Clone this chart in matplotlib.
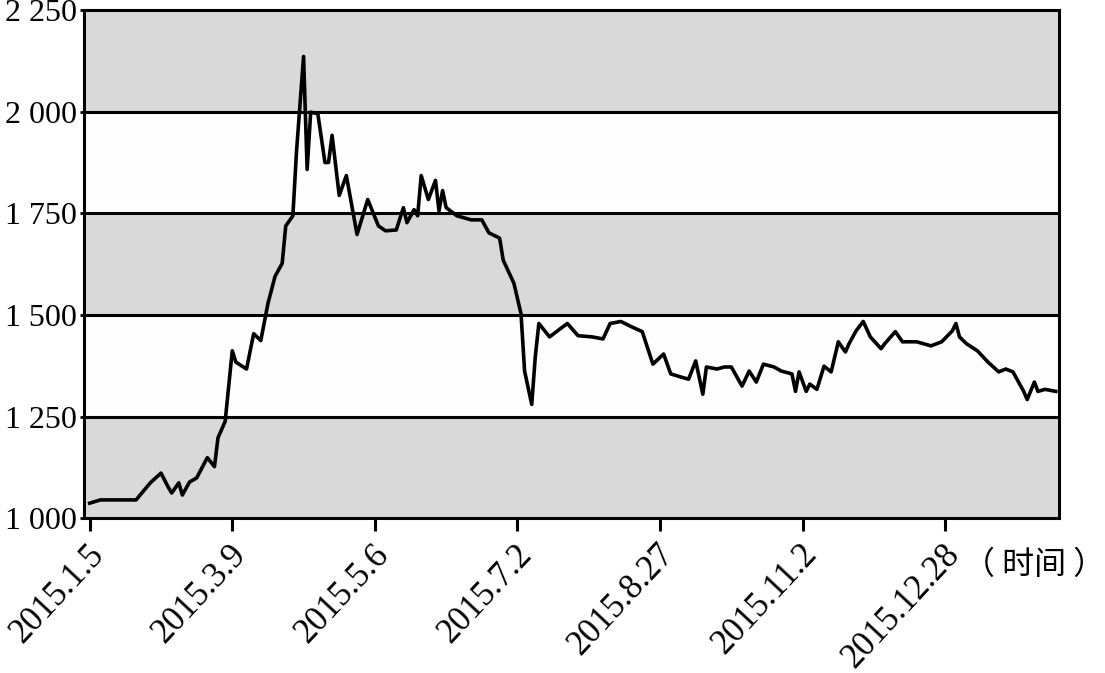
import matplotlib.pyplot as plt
from matplotlib.transforms import ScaledTranslation

plt.rcParams['font.family'] = ['Liberation Serif', 'Noto Sans CJK SC']

# trading-day index (0 = 2015.1.5) and index value
days = [0, 3, 13, 17, 20, 22, 23, 25, 26, 28, 30, 33, 35, 36, 38, 40, 41, 44, 46, 48,
        50, 52, 54, 55, 57, 58, 60, 61, 62, 64, 66, 67, 68, 70, 72, 75, 78, 81, 83, 86,
        88, 89, 91, 92, 93, 95, 97, 98, 99, 100, 103, 107, 110, 112, 115, 116, 119, 121, 122, 124,
        125, 126, 129, 132, 134, 137, 141, 144, 146, 149, 152, 155, 158, 161, 163, 166, 168, 170, 172, 173,
        176, 178, 180, 183, 185, 187, 189, 192, 194, 197, 198, 199, 201, 202, 204, 206, 208, 209, 210, 212,
        213, 215, 217, 219, 222, 223, 226, 228, 232, 236, 239, 242, 243, 244, 246, 249, 252, 255, 257, 259,
        262, 263, 265, 266, 268, 271]
values = [1037, 1045, 1045, 1087, 1111, 1077, 1062, 1087, 1057, 1089, 1099, 1149, 1127, 1198, 1238, 1412, 1384, 1367, 1454, 1437,
          1528, 1595, 1627, 1719, 1744, 1900, 2136, 1858, 1999, 1995, 1875, 1875, 1942, 1794, 1843, 1698, 1784, 1719, 1707, 1709,
          1764, 1727, 1759, 1744, 1843, 1784, 1831, 1756, 1806, 1764, 1744, 1734, 1734, 1702, 1689, 1635, 1578, 1503, 1362, 1280,
          1397, 1479, 1446, 1466, 1479, 1449, 1446, 1441, 1479, 1484, 1471, 1459, 1379, 1404, 1355, 1347, 1342, 1387, 1305, 1372,
          1367, 1372, 1372, 1325, 1362, 1335, 1379, 1372, 1362, 1355, 1312, 1360, 1312, 1330, 1317, 1374, 1360, 1397, 1434, 1409,
          1429, 1461, 1484, 1446, 1417, 1429, 1459, 1434, 1434, 1424, 1434, 1461, 1479, 1446, 1429, 1412, 1384, 1360, 1367, 1360,
          1312, 1292, 1335, 1312, 1317, 1312]

tick_days = [0, 40, 80, 120, 160, 200, 240]
tick_labels = ['2015.1.5', '2015.3.9', '2015.5.6', '2015.7.2', '2015.8.27', '2015.11.2', '2015.12.28']
y_ticks = [1000, 1250, 1500, 1750, 2000, 2250]
y_labels = ['1 000', '1 250', '1 500', '1 750', '2 000', '2 250']

fig = plt.figure(figsize=(11.05, 6.73), dpi=100)
ax = fig.add_axes([0.076, 0.230, 0.882, 0.755])

# alternating grey / white bands
for i in range(len(y_ticks) - 1):
    c = '#d9d9d9' if i % 2 == 0 else '#fdfdfd'
    ax.axhspan(y_ticks[i], y_ticks[i + 1], color=c, zorder=0)
for y in y_ticks[1:-1]:
    ax.axhline(y, color='black', lw=2.2, zorder=1)

ax.plot(days, values, color='black', lw=2.6, zorder=2)

ax.set_xlim(-1.6, 271.8)
ax.set_ylim(1000, 2250)
ax.set_yticks(y_ticks)
ax.set_yticklabels(y_labels, fontsize=23)
ax.set_xticks(tick_days)
ax.set_xticklabels(tick_labels, fontsize=25, rotation=47, ha='right', va='top',
                   rotation_mode='anchor')
ax.tick_params(axis='x', length=9, width=2.2, pad=3)
ax.tick_params(axis='y', length=3, width=2, pad=2)
for s in ax.spines.values():
    s.set_linewidth(2.2)

# nudge the rotated date labels a little down-left
shift = ScaledTranslation(-3 / 100, -3 / 100, fig.dpi_scale_trans)
for lab in ax.get_xticklabels():
    lab.set_transform(lab.get_transform() + shift)

fig.text(1.0, 0.160, '（ 时间 ）', fontsize=23, ha='right', va='center',
         family=['Noto Sans CJK SC'])

plt.savefig('out.png')
